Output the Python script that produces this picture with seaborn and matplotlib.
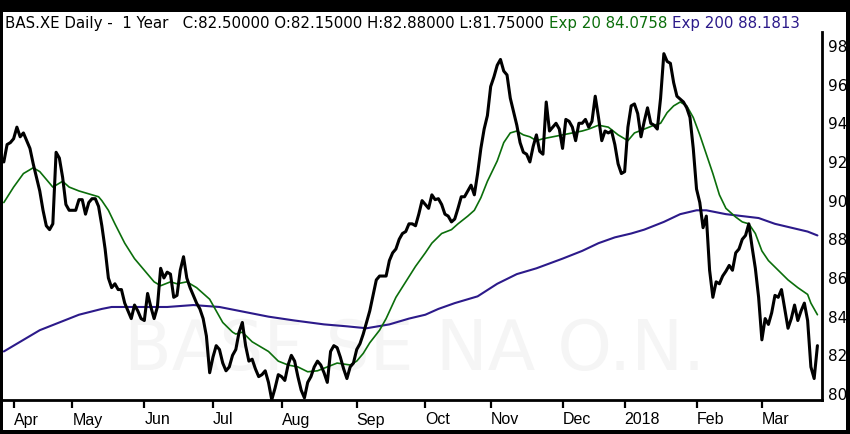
import numpy as np
import pandas as pd
import seaborn as sns
import matplotlib.pyplot as plt
from matplotlib.patches import Rectangle

# ==========================================
# Data (one close per trading session)
# ==========================================
ticker = "BAS.XE"
watermark = "BASF SE NA O.N."
first_session = "2017-03-29"
# days the exchange feed skips
holidays = ["2017-04-14", "2017-04-17", "2017-05-01", "2017-06-05", "2017-10-03",
            "2017-10-31", "2017-12-25", "2017-12-26", "2018-01-01"]

close = [
    92.0, 92.9, 93.0, 93.2, 93.8, 93.3, 93.5, 93.1, 92.7, 91.9,
    91.2, 90.5, 89.5, 88.7, 88.5, 88.8, 92.5, 92.2, 91.2, 89.8,
    89.5, 89.5, 89.5, 90.05, 90.05, 89.3, 89.9, 90.1, 90.1, 89.7,
    88.7, 87.5, 86.0, 85.5, 85.7, 85.4, 85.4, 84.7, 84.3, 83.9,
    84.6, 84.3, 83.9, 83.8, 85.2, 84.5, 83.9, 84.5, 86.5, 86.0,
    86.3, 86.2, 85.0, 85.1, 86.4, 87.1, 86.0, 85.5, 85.1, 84.7,
    84.4, 83.9, 83.0, 81.1, 81.9, 82.5, 82.3, 81.6, 81.2, 81.4,
    82.0, 82.3, 83.2, 83.7, 82.5, 81.7, 81.8, 81.3, 80.9,
    81.0, 81.2, 80.6, 79.7, 80.3, 81.0, 80.9, 80.7, 81.5, 82.0,
    81.7, 80.9, 80.2, 79.8, 80.6, 80.9, 81.4, 81.7, 81.5, 81.1,
    80.6, 82.2, 82.5, 82.4, 81.9, 81.3, 80.8, 81.4, 81.6, 82.3,
    82.6, 83.1, 83.7, 84.3, 85.1, 85.9, 86.1, 86.1, 86.1, 86.9,
    87.3, 87.5, 88.0, 88.3, 88.4, 88.8, 88.8, 88.7, 89.3, 90.0,
    89.8, 89.6, 90.3, 90.05, 90.1, 89.8, 89.3, 89.2, 88.9, 89.05,
    89.6, 90.2, 90.2, 90.5, 90.8, 90.3, 91.4, 92.7, 93.7, 94.4,
    95.9, 96.4, 97.0, 97.3, 96.7, 96.5, 95.3, 94.6, 93.9, 93.0,
    92.5, 92.4, 92.0, 92.8, 93.4, 92.55, 92.4, 95.1, 93.6, 93.8,
    94.0, 93.7, 92.7, 94.2, 94.1, 93.8, 93.1, 94.0, 94.0, 94.2,
    93.8, 94.1, 95.4, 94.3, 93.1, 93.6, 93.5, 93.6, 92.9,
    91.9, 91.4, 91.5, 93.8, 94.9, 95.0, 94.5, 93.3, 94.1, 94.8,
    94.0, 93.9, 93.7, 95.3, 97.6, 97.2, 97.1, 96.1, 95.4, 95.25,
    95.1, 94.8, 94.3, 92.7, 90.6, 89.9, 88.6, 89.2, 86.4, 85.0,
    85.8, 85.7, 86.1, 86.35, 86.65, 86.4, 87.3, 87.5, 88.0, 88.2,
    88.8, 87.6, 86.5, 85.0, 82.8, 83.9, 83.6, 84.2, 85.1, 85.0,
    85.4, 84.4, 83.4, 83.9, 84.6, 83.8, 84.3, 84.7, 83.8, 81.4,
    80.8, 82.5,
]

# moving averages, read at a subset of sessions
ema20_session = [0, 3, 6, 9, 11, 13, 15, 17, 18, 20, 23, 27, 29, 30, 32, 34, 37, 40, 43, 46,
                 48, 51, 53, 56, 59, 63, 65, 67, 70, 71, 73, 76, 81, 84, 87, 90, 93, 96, 99, 102,
                 106, 108, 110, 112, 115, 117, 120, 123, 126, 129, 131, 134, 137, 139, 142, 144,
                 146, 148, 151, 153, 155, 157, 159, 161, 163, 165, 168, 171, 174, 177, 179, 182,
                 185, 188, 191, 193, 196, 199, 201, 203, 205, 207, 209, 211, 213, 215, 217, 219,
                 221, 224, 226, 228, 230, 232, 234, 237, 240, 243, 246, 247, 249]
ema20_value = [89.9, 90.7, 91.4, 91.7, 91.5, 91.1, 90.7, 90.9, 91.0, 90.7, 90.5, 90.3, 90.2, 90.0,
               89.5, 88.8, 87.8, 87.0, 86.4, 85.8, 85.6, 85.8, 85.7, 85.8, 85.5, 84.9, 84.3, 83.7,
               83.2, 83.1, 83.2, 82.7, 82.2, 81.7, 81.5, 81.4, 81.15, 81.2, 81.4, 81.6, 81.5, 81.7,
               82.1, 82.65, 83.3, 83.9, 85.0, 85.8, 86.6, 87.3, 87.8, 88.3, 88.5, 88.8, 89.2, 89.5,
               90.15, 91.0, 92.05, 93.0, 93.5, 93.6, 93.4, 93.3, 93.1, 93.2, 93.3, 93.4, 93.5, 93.6,
               93.7, 93.9, 93.8, 93.4, 93.1, 93.5, 93.7, 93.9, 94.0, 94.55, 94.9, 95.1, 94.9, 94.3,
               93.4, 92.4, 91.4, 90.3, 89.6, 89.15, 88.9, 88.8, 88.3, 87.4, 86.9, 86.4, 85.9, 85.5,
               85.15, 84.7, 84.1]

ema200_session = [0, 5, 11, 17, 23, 30, 33, 40, 50, 58, 66, 72, 81, 89, 98, 105, 111, 118, 124, 129,
                  133, 138, 145, 151, 157, 163, 171, 177, 182, 187, 192, 196, 202, 207, 212, 215,
                  221, 226, 231, 236, 241, 246, 249]
ema200_value = [82.2, 82.7, 83.3, 83.7, 84.1, 84.4, 84.5, 84.5, 84.5, 84.6, 84.5, 84.3, 84.0, 83.8,
                83.6, 83.5, 83.4, 83.6, 83.9, 84.1, 84.4, 84.7, 85.05, 85.7, 86.2, 86.5, 87.0, 87.4,
                87.8, 88.1, 88.3, 88.5, 88.9, 89.3, 89.5, 89.5, 89.3, 89.2, 89.1, 88.8, 88.6, 88.4,
                88.2]

last_open, last_high, last_low = 82.15, 82.88, 81.75
ema20_last, ema200_last = 84.0758, 88.1813
y_ticks = [80, 82, 84, 86, 88, 90, 92, 94, 96, 98]

# ==========================================
# Build frames
# ==========================================
dates = pd.bdate_range(first_session, periods=len(close), freq="C", holidays=holidays)
prices = pd.DataFrame({"session": np.arange(len(close)), "close": close})
ema20 = pd.DataFrame({"session": ema20_session, "ema": ema20_value})
ema200 = pd.DataFrame({"session": ema200_session, "ema": ema200_value})

# month ticks at the first session of each new month
month_start = [i for i in range(1, len(dates)) if dates[i].month != dates[i - 1].month]
month_label = [str(dates[i].year) if dates[i].month == 1 else dates[i].strftime("%b")
               for i in month_start]

GREEN = "#0b6e0b"
BLUE = "#2c1a8a"

sns.set_style("white")
plt.rcParams["font.family"] = ["DejaVu Sans"]

W, H = 850, 434
fig = plt.figure(figsize=(W / 100, H / 100), dpi=100, facecolor="black")
fig.add_artist(Rectangle((3 / W, 4 / H), 843 / W, 418 / H, transform=fig.transFigure,
                         facecolor="white", edgecolor="none", zorder=0))
ax = fig.add_axes([3 / W, 1 - 400 / H, 819 / W, 368 / H])
ax.set_facecolor("white")

ax.text(0.503, 0.135, watermark, transform=ax.transAxes, ha="center", va="center",
        fontsize=50, color="#f5f5f5", zorder=0)

sns.lineplot(data=ema200, x="session", y="ema", ax=ax, color=BLUE, linewidth=1.5, zorder=2)
sns.lineplot(data=ema20, x="session", y="ema", ax=ax, color=GREEN, linewidth=1.2, zorder=3)
sns.lineplot(data=prices, x="session", y="close", ax=ax, color="black", linewidth=2.2, zorder=4)

ax.set_xlim(-0.25, 250.4)
ax.set_ylim(79.69, 98.72)
ax.set_xlabel("")
ax.set_ylabel("")

for side in ["left", "top"]:
    ax.spines[side].set_visible(False)
for side in ["right", "bottom"]:
    ax.spines[side].set_color("black")
    ax.spines[side].set_linewidth(2)

ax.yaxis.tick_right()
ax.set_yticks(y_ticks)
ax.set_yticklabels([str(v) for v in y_ticks])
ax.tick_params(axis="y", length=0, pad=4, labelsize=11, labelcolor="black")

ax.set_xticks(month_start)
ax.set_xticklabels(month_label, ha="left", fontfamily=["Liberation Sans", "DejaVu Sans"])
ax.tick_params(axis="x", direction="out", length=6, width=1.6, color="black",
               pad=3, labelsize=11.5, labelcolor="black", bottom=True)

# header line in three colours, each piece placed after the previous one
header = [
    (f"{ticker} Daily -  1 Year   C:{close[-1]:.5f} O:{last_open:.5f} "
     f"H:{last_high:.5f} L:{last_low:.5f} ", "black"),
    (f"Exp 20 {ema20_last:.4f} ", GREEN),
    (f"Exp 200 {ema200_last:.4f}", BLUE),
]
renderer = fig.canvas.get_renderer()
x_px = 5
for text, colour in header:
    t = fig.text(x_px / W, 1 - 28 / H, text, color=colour, fontsize=10.8, va="baseline")
    x_px = t.get_window_extent(renderer).x1

fig.savefig("out.png", dpi=100, facecolor="black")
